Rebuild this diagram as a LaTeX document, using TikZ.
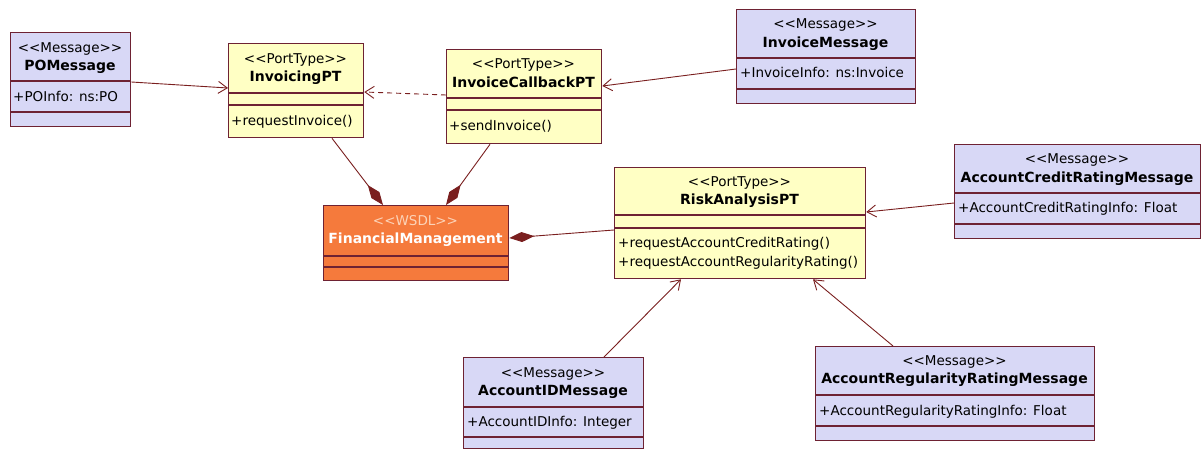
\documentclass[tikz,border=0pt]{standalone}
\usepackage{fontspec}
\setmainfont{DejaVu Sans}
\usetikzlibrary{arrows.meta,calc}

\definecolor{msgfill}{HTML}{D8D8F6}
\definecolor{ptfill}{HTML}{FFFFC4}
\definecolor{wsdlfill}{HTML}{F57A3C}
\definecolor{edgecol}{HTML}{6E2233}
\definecolor{wire}{HTML}{7A1F1F}
\definecolor{wsdlstereo}{HTML}{FCD3B8}

% stereotype brackets without guillemet ligatures
\newcommand\stereo[1]{<\kern0pt<#1>\kern0pt>}
% compartment separator inside a class box
\newcommand\compline[2]{\draw[sepline] ($(#1.north west)+(0,#2)$) -- ($(#1.north east)+(0,#2)$);}

\tikzset{
  txt/.style={font=\fontsize{13.5}{16}\selectfont, inner sep=0pt, anchor=mid, yshift=-2pt},
  title/.style={txt, font=\fontsize{14}{16}\selectfont\bfseries},
  member/.style={txt, anchor=mid west},
  box/.style={draw=edgecol, line width=1.3pt, inner sep=0pt, anchor=north west},
  msgbox/.style={box, fill=msgfill},
  ptbox/.style={box, fill=ptfill},
  wsdlbox/.style={box, fill=wsdlfill},
  sepline/.style={draw=edgecol, line width=1.3pt},
  nav/.style={draw=wire, line width=0.9pt, -{Straight Barb[length=9pt,width=12pt]}},
  dep/.style={nav, dash pattern=on 5pt off 4pt},
  comp/.style={draw=wire, line width=0.9pt, {Diamond[length=25pt,width=10pt]}-},
}

\begin{document}
\begin{tikzpicture}[x=1pt,y=-1pt]
\fill[white] (0,0) rectangle (1203,450);
\useasboundingbox (0,0) rectangle (1203,450);

% ---- POMessage
\node[msgbox, minimum width=120pt, minimum height=94pt] (po) at (10,32) {};
\compline{po}{49}\compline{po}{80}
\node[txt]    (po-st) at (70,48) {\stereo{Message}};
\node[title]  (po-nm) at (70,66) {POMessage};
\node[member] (po-at) at (13,97) {+POInfo: ns:PO};

% ---- InvoicingPT
\node[ptbox, minimum width=135pt, minimum height=94pt] (inv) at (228,43) {};
\compline{inv}{50}\compline{inv}{62}
\node[txt]    (inv-st) at (295.5,59) {\stereo{PortType}};
\node[title]  (inv-nm) at (295.5,77) {InvoicingPT};
\node[member] (inv-op) at (231,121) {+requestInvoice()};

% ---- InvoiceCallbackPT
\node[ptbox, minimum width=155pt, minimum height=94pt] (cb) at (446,49) {};
\compline{cb}{49}\compline{cb}{61}
\node[txt]    (cb-st) at (523.5,64) {\stereo{PortType}};
\node[title]  (cb-nm) at (523.5,83) {InvoiceCallbackPT};
\node[member] (cb-op) at (449,126) {+sendInvoice()};

% ---- InvoiceMessage
\node[msgbox, minimum width=179pt, minimum height=94pt] (im) at (736,9) {};
\compline{im}{49}\compline{im}{80}
\node[txt]    (im-st) at (825.5,24) {\stereo{Message}};
\node[title]  (im-nm) at (825.5,43) {InvoiceMessage};
\node[member] (im-at) at (740,73) {+InvoiceInfo: ns:Invoice};

% ---- RiskAnalysisPT
\node[ptbox, minimum width=251pt, minimum height=111pt] (risk) at (614,167) {};
\compline{risk}{48}\compline{risk}{61}
\node[txt]    (risk-st)  at (739.5,182) {\stereo{PortType}};
\node[title]  (risk-nm)  at (739.5,200) {RiskAnalysisPT};
\node[member] (risk-op1) at (618,243) {+requestAccountCreditRating()};
\node[member] (risk-op2) at (618,262) {+requestAccountRegularityRating()};

% ---- AccountCreditRatingMessage
\node[msgbox, minimum width=246pt, minimum height=94pt] (acr) at (954,144) {};
\compline{acr}{49}\compline{acr}{80}
\node[txt]    (acr-st) at (1077,159) {\stereo{Message}};
\node[title]  (acr-nm) at (1077,178) {AccountCreditRatingMessage};
\node[member] (acr-at) at (958,208) {+AccountCreditRatingInfo: Float};

% ---- FinancialManagement (WSDL)
\node[wsdlbox, minimum width=185pt, minimum height=75pt] (fm) at (323,205) {};
\compline{fm}{51}\compline{fm}{62}
\node[txt, text=wsdlstereo] (fm-st) at (415.5,221) {\stereo{WSDL}};
\node[title, text=white]    (fm-nm) at (415.5,239) {FinancialManagement};

% ---- AccountIDMessage
\node[msgbox, minimum width=180pt, minimum height=91pt] (aid) at (463,357) {};
\compline{aid}{50}\compline{aid}{80}
\node[txt]    (aid-st) at (553,373) {\stereo{Message}};
\node[title]  (aid-nm) at (553,391) {AccountIDMessage};
\node[member] (aid-at) at (467,422) {+AccountIDInfo: Integer};

% ---- AccountRegularityRatingMessage
\node[msgbox, minimum width=279pt, minimum height=94pt] (arr) at (815,346) {};
\compline{arr}{49}\compline{arr}{80}
\node[txt]    (arr-st) at (954.5,361) {\stereo{Message}};
\node[title]  (arr-nm) at (954.5,379) {AccountRegularityRatingMessage};
\node[member] (arr-at) at (819,411) {+AccountRegularityRatingInfo: Float};

% ---- navigable associations
\draw[nav] ($(po.north east)+(0,50)$) -- ($(inv.north west)+(0,45)$);
\draw[dep] ($(cb.north west)+(0,46)$) -- ($(inv.north east)+(0,49)$);
\draw[nav] ($(im.north west)+(0,60)$) -- ($(cb.north east)+(0,37)$);
\draw[nav] ($(acr.north west)+(0,59)$) -- ($(risk.north east)+(0,45)$);
\draw[nav] ($(aid.north west)+(141,0)$) -- ($(risk.south west)+(67,0)$);
\draw[nav] ($(arr.north west)+(78,0)$) -- ($(risk.south west)+(199,0)$);

% ---- compositions into the WSDL
\draw[comp] ($(fm.north west)+(60,0)$) -- ($(inv.south west)+(104,0)$);
\draw[comp] ($(fm.north west)+(123,0)$) -- ($(cb.south west)+(44,0)$);
\draw[comp] ($(fm.north east)+(0,33)$) -- ($(risk.north west)+(0,63)$);
\end{tikzpicture}
\end{document}
